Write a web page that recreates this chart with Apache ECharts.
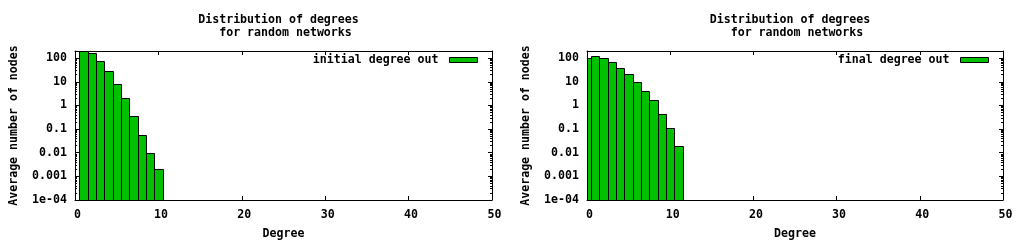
<!DOCTYPE html>
<html><head><meta charset="utf-8">
<script src="https://cdn.jsdelivr.net/npm/echarts@6/dist/echarts.min.js"></script>
<style>html,body{margin:0;padding:0;background:#fff}#c{width:1024px;height:240px}</style>
</head><body><div id="c"></div><script>
// ---- data ----
const degreesInitial = [1, 2, 3, 4, 5, 6, 7, 8, 9, 10];
const initialDegreeOut = [230, 160, 75.5, 28.5, 7.8, 2.06, 0.357, 0.056, 0.0094, 0.002];
const degreesFinal = [0, 1, 2, 3, 4, 5, 6, 7, 8, 9, 10, 11];
const finalDegreeOut = [104, 127, 104, 66.5, 39.4, 20.7, 9.5, 3.95, 1.64, 0.42, 0.108, 0.0198];
const xTicks = [0, 10, 20, 30, 40, 50];
const yTicks = [0.0001, 0.001, 0.01, 0.1, 1, 10, 100];
const yTickLabels = ['1e-04', '0.001', '0.01', '0.1', '1', '10', '100'];
const yMinorMultipliers = [2, 3, 4, 5, 6, 7, 8, 9];
const titleText = 'Distribution of degrees\n  for random networks';
const xName = 'Degree';
const yName = 'Average number of nodes';
const seriesNames = ['initial degree out', 'final degree out'];

// ---- styling / layout ----
const Y_MIN = 0.0001, Y_MAX = 200, X_MIN = 0, X_MAX = 50;
const FONT = { fontFamily: 'DejaVu Sans Mono', fontWeight: 'bold', fontSize: 11.6, color: '#000' };
const GREEN = '#00c000';
const grids = [
  { left: 75, top: 51, width: 417, height: 149 },
  { left: 587, top: 51, width: 416, height: 149 }
];
const yMinor = [];
for (let k = -4; k <= 2; k++) {
  yMinorMultipliers.forEach(m => { const v = m * Math.pow(10, k); if (v > Y_MIN && v < Y_MAX) yMinor.push(v); });
}
const lineStyle = { color: '#000', width: 1 };

const xAxis = [], yAxis = [];
grids.forEach((g, gi) => {
  xAxis.push({
    type: 'value', gridIndex: gi, position: 'bottom', min: X_MIN, max: X_MAX, interval: 10,
    axisLine: { show: true, lineStyle }, splitLine: { show: false },
    axisTick: { show: true, inside: true, length: 4, lineStyle, customValues: xTicks },
    axisLabel: Object.assign({ margin: 9, customValues: xTicks, padding: [0, 0, 0, 5] }, FONT),
    name: xName, nameLocation: 'middle', nameGap: 28, nameTextStyle: FONT
  });
  xAxis.push({
    type: 'value', gridIndex: gi, position: 'top', min: X_MIN, max: X_MAX, interval: 10,
    axisLine: { show: true, lineStyle }, splitLine: { show: false },
    axisTick: { show: true, inside: true, length: 4, lineStyle, customValues: xTicks },
    axisLabel: { show: false }
  });
  const baseY = { type: 'log', logBase: 10, gridIndex: gi, min: Y_MIN, max: Y_MAX, splitLine: { show: false } };
  yAxis.push(Object.assign({}, baseY, {
    position: 'left', startValue: Y_MIN,
    axisLine: { show: true, lineStyle },
    axisTick: { show: true, inside: true, length: 4, lineStyle, customValues: yTicks },
    axisLabel: Object.assign({ margin: 8, customValues: yTicks, padding: [4, 0, 0, 0],
      formatter: v => { let i = yTicks.findIndex(t => Math.abs(Math.log10(t) - Math.log10(v)) < 1e-6); return i >= 0 ? yTickLabels[i] : ''; } }, FONT),
    name: yName, nameLocation: 'middle', nameGap: 55, nameTextStyle: FONT
  }));
  yAxis.push(Object.assign({}, baseY, {
    position: 'left', axisLine: { show: false },
    axisTick: { show: true, inside: true, length: 2, lineStyle, customValues: yMinor },
    axisLabel: { show: false }
  }));
  yAxis.push(Object.assign({}, baseY, {
    position: 'right', axisLine: { show: true, lineStyle },
    axisTick: { show: true, inside: true, length: 4, lineStyle, customValues: yTicks },
    axisLabel: { show: false }
  }));
  yAxis.push(Object.assign({}, baseY, {
    position: 'right', axisLine: { show: false },
    axisTick: { show: true, inside: true, length: 2, lineStyle, customValues: yMinor },
    axisLabel: { show: false }
  }));
});

function renderBar(params, api) {
  const x = api.value(0), v = api.value(1);
  const a = api.coord([x - 0.5, v]);
  const b = api.coord([x + 0.5, Y_MIN]);
  const cs = params.coordSys;
  const x1 = Math.max(a[0], cs.x), x2 = Math.min(b[0], cs.x + cs.width);
  const y1 = Math.max(a[1], cs.y), y2 = Math.min(b[1], cs.y + cs.height);
  if (x2 <= x1 || y2 <= y1) return;
  const rx1 = Math.round(x1), rx2 = Math.round(x2), ry1 = Math.round(y1), ry2 = Math.round(y2);
  return { type: 'rect', shape: { x: rx1 + 0.5, y: ry1 + 0.5, width: rx2 - rx1, height: ry2 - ry1 },
    style: { fill: GREEN, stroke: '#000', lineWidth: 1 } };
}

const datasets = [
  degreesInitial.map((d, i) => [d, initialDegreeOut[i]]),
  degreesFinal.map((d, i) => [d, finalDegreeOut[i]])
];

const option = {
  animation: false,
  backgroundColor: '#fff',
  grid: grids.map(g => Object.assign({ show: false, containLabel: false, outerBoundsMode: 'none' }, g)),
  xAxis, yAxis,
  graphic: grids.map(g => ({
    type: 'text', x: g.left + g.width / 2 - 5, y: 13,
    style: Object.assign({ text: titleText, align: 'center', verticalAlign: 'top', lineHeight: 13.5,
      font: 'bold 11.6px "DejaVu Sans Mono"', fill: '#000' })
  })),
  legend: grids.map((g, gi) => ({
    data: [{ name: seriesNames[gi] }], right: 1024 - (g.left + g.width - 14), top: 54, padding: 0,
    align: 'right', orient: 'horizontal', itemWidth: 28, itemHeight: 5, icon: 'rect',
    selectedMode: false,
    itemStyle: { color: GREEN, borderColor: '#000', borderWidth: 1 },
    textStyle: Object.assign({ padding: [0, 6, 0, 0] }, FONT)
  })),
  series: datasets.map((data, gi) => ({
    type: 'custom', name: seriesNames[gi], xAxisIndex: gi * 2, yAxisIndex: gi * 4,
    itemStyle: { color: GREEN, borderColor: '#000', borderWidth: 1 },
    encode: { x: 0, y: 1 }, data, renderItem: renderBar
  }))
};
const chart = echarts.init(document.getElementById('c'), null, { renderer: 'canvas' });
chart.setOption(option);
</script></body></html>
